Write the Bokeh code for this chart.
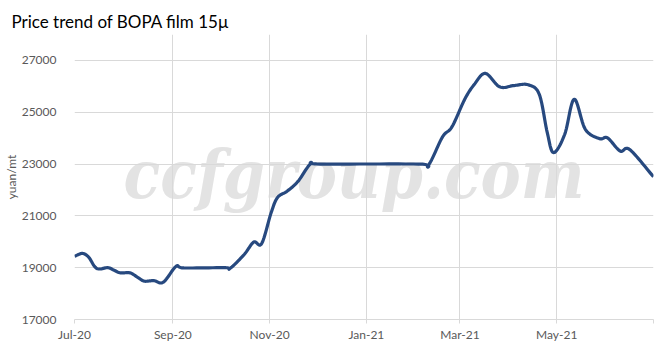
import numpy as np
import pandas as pd
from bokeh.plotting import figure
from bokeh.models import Range1d, FixedTicker, Label
from bokeh.embed import file_html
from bokeh.resources import INLINE

title_text = "Price trend of BOPA film 15\u00b5"
y_label = "yuan/mt"
watermark = "ccfgroup.com"

dates = ["2020-07-01", "2020-07-06", "2020-07-10", "2020-07-15", "2020-07-22", "2020-07-26",
         "2020-07-30", "2020-08-05", "2020-08-10", "2020-08-14", "2020-08-20", "2020-08-26",
         "2020-09-03", "2020-09-08", "2020-10-04", "2020-10-07", "2020-10-16", "2020-10-22",
         "2020-10-27", "2020-11-02", "2020-11-06", "2020-11-12", "2020-11-19", "2020-11-27",
         "2020-12-03", "2021-02-03", "2021-02-09", "2021-02-18", "2021-02-24", "2021-03-04",
         "2021-03-10", "2021-03-17", "2021-03-26", "2021-04-04", "2021-04-13", "2021-04-20",
         "2021-04-25", "2021-04-29", "2021-05-06", "2021-05-12", "2021-05-19", "2021-05-28",
         "2021-06-02", "2021-06-10", "2021-06-16", "2021-07-01"]
prices = [19440, 19550, 19400, 18970, 19000, 18900,
          18800, 18800, 18620, 18480, 18500, 18440,
          19050, 18990, 19000, 18970, 19510, 19990,
          19930, 21130, 21710, 21950, 22340, 23020,
          23000, 23000, 22950, 24050, 24440, 25500,
          26070, 26500, 25980, 26030, 26060, 25690,
          24220, 23440, 24140, 25500, 24340, 23980,
          24010, 23500, 23560, 22510]

tick_dates = ["2020-07-01", "2020-09-01", "2020-11-01", "2021-01-01", "2021-03-01", "2021-05-01", "2021-07-01"]
tick_labels = ["Jul-20", "Sep-20", "Nov-20", "Jan-21", "Mar-21", "May-21", ""]
y_ticks = [17000, 19000, 21000, 23000, 25000, 27000]
y_min, y_max = 17000, 28000


def to_ms(ds):
    return np.array([pd.Timestamp(d).value // 10**6 for d in ds], dtype=float)


xs = to_ms(dates)
ys = np.array(prices, dtype=float)


def catmull_rom(x, y, n=12):
    # Excel-style smoothed line rendering through the data points
    px = np.concatenate([[2 * x[0] - x[1]], x, [2 * x[-1] - x[-2]]])
    py = np.concatenate([[2 * y[0] - y[1]], y, [2 * y[-1] - y[-2]]])
    ox, oy = [], []
    t = np.linspace(0, 1, n, endpoint=False)
    for i in range(1, len(px) - 2):
        for arr, out in ((px, ox), (py, oy)):
            p0, p1, p2, p3 = arr[i - 1], arr[i], arr[i + 1], arr[i + 2]
            out.extend(0.5 * ((2 * p1) + (-p0 + p2) * t + (2 * p0 - 5 * p1 + 4 * p2 - p3) * t ** 2
                              + (-p0 + 3 * p1 - 3 * p2 + p3) * t ** 3))
    ox.append(x[-1]); oy.append(y[-1])
    return np.array(ox), np.array(oy)


sx, sy = catmull_rom(xs, ys)
tick_ms = to_ms(tick_dates)

p = figure(frame_width=579, frame_height=285, output_backend="svg", toolbar_location=None,
           x_range=Range1d(tick_ms[0], tick_ms[-1]), y_range=Range1d(y_min, y_max),
           min_border_left=69, min_border_right=1, min_border_top=34, min_border_bottom=28)

p.title.text = title_text
p.title.text_font = "Lato"
p.title.text_font_size = "17px"
p.title.text_font_style = "normal"
p.title.text_color = "#000000"
p.title.offset = -63
p.title.standoff = 6

p.outline_line_color = None
p.background_fill_color = "white"
p.border_fill_color = "white"

# watermark (background, beneath grid)
wm = Label(x=49, y=145, x_units="screen", y_units="screen", text=watermark,
           text_font="DejaVu Serif Condensed", text_font_style="bold italic", text_font_size="67px",
           text_color="#e3e3e3", text_baseline="alphabetic", level="image")
p.add_layout(wm, "center")

p.line(sx, sy, line_color="#27497f", line_width=3.2, line_join="round")

p.xaxis.ticker = FixedTicker(ticks=list(tick_ms))
p.xaxis.major_label_overrides = {float(t): l for t, l in zip(tick_ms, tick_labels)}
p.yaxis.ticker = FixedTicker(ticks=y_ticks)
p.xaxis.minor_tick_line_color = None
p.yaxis.minor_tick_line_color = None
p.xaxis.axis_line_color = "#d9d9d9"
p.xaxis.major_tick_line_color = "#d9d9d9"
p.xaxis.major_tick_in = 0
p.xaxis.major_tick_out = 4
p.yaxis.axis_line_color = None
p.yaxis.major_tick_line_color = None
for ax in (p.xaxis, p.yaxis):
    ax.major_label_text_font = "Lato"
    ax.major_label_text_font_size = "12px"
    ax.major_label_text_color = "#595959"
p.xaxis.major_label_standoff = 3
p.yaxis.major_label_standoff = 12
p.yaxis.axis_label = y_label
p.yaxis.axis_label_text_font = "Lato"
p.yaxis.axis_label_text_font_size = "12px"
p.yaxis.axis_label_text_font_style = "normal"
p.yaxis.axis_label_text_color = "#595959"
p.yaxis.axis_label_standoff = 0

p.xgrid.ticker = FixedTicker(ticks=list(tick_ms))
p.ygrid.ticker = FixedTicker(ticks=y_ticks)
p.grid.grid_line_color = "#d9d9d9"
p.grid.grid_line_width = 1

open("out.html", "w").write(file_html(p, INLINE))
